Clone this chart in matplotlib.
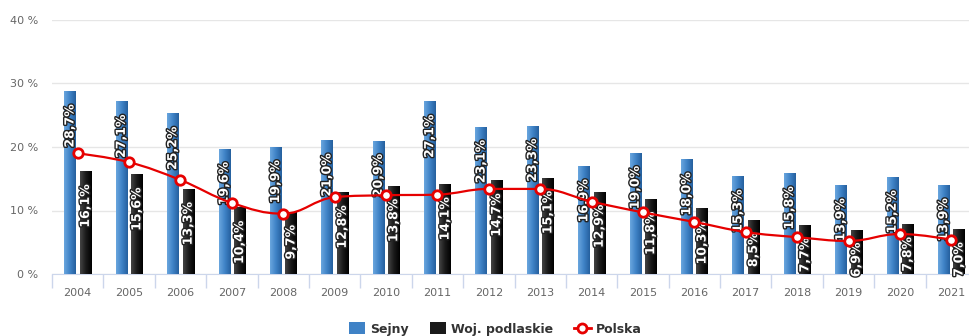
import numpy as np
import matplotlib
matplotlib.use("Agg")
import matplotlib.pyplot as plt
import matplotlib.patheffects as pe
from matplotlib.path import Path
from matplotlib.patches import PathPatch, Patch
from matplotlib.lines import Line2D

years = [str(y) for y in range(2004, 2022)]
sejny = [28.7, 27.1, 25.2, 19.6, 19.9, 21.0, 20.9, 27.1, 23.1, 23.3,
         16.9, 19.0, 18.0, 15.3, 15.8, 13.9, 15.2, 13.9]
podlaskie = [16.1, 15.6, 13.3, 10.4, 9.7, 12.8, 13.8, 14.1, 14.7, 15.1,
             12.9, 11.8, 10.3, 8.5, 7.7, 6.9, 7.8, 7.0]
polska = [19.0, 17.6, 14.8, 11.2, 9.5, 12.1, 12.4, 12.5, 13.4, 13.4,
          11.4, 9.7, 8.2, 6.6, 5.8, 5.2, 6.3, 5.4]
y_ticks = [0, 10, 20, 30, 40]

BLUE_GRAD = ["#6aa6de", "#3f82c6", "#25609e"]
BLACK_GRAD = ["#444444", "#1a1a1a", "#000000"]
RED = "#e60000"


def spline_path(xs, ys, smoothing=1.5):
    """Smoothed line through the points, control points built the way
    a Highcharts 'spline' series does it."""
    n = len(xs)
    denom = smoothing + 1
    left = [(xs[0], ys[0])] * n
    right = [(xs[0], ys[0])] * n
    for i in range(n):
        x, y = xs[i], ys[i]
        if i == 0 or i == n - 1:
            left[i] = right[i] = (x, y)
            continue
        lx, ly = xs[i - 1], ys[i - 1]
        nx, ny = xs[i + 1], ys[i + 1]
        lcx = (smoothing * x + lx) / denom
        lcy = (smoothing * y + ly) / denom
        rcx = (smoothing * x + nx) / denom
        rcy = (smoothing * y + ny) / denom
        if rcx != lcx:
            corr = (rcy - lcy) * (rcx - x) / (rcx - lcx) + y - rcy
            lcy += corr
            rcy += corr
        if lcy > ly and lcy > y:
            lcy = max(ly, y)
            rcy = 2 * y - lcy
        elif lcy < ly and lcy < y:
            lcy = min(ly, y)
            rcy = 2 * y - lcy
        if rcy > ny and rcy > y:
            rcy = max(ny, y)
            lcy = 2 * y - rcy
        elif rcy < ny and rcy < y:
            rcy = min(ny, y)
            lcy = 2 * y - rcy
        left[i] = (lcx, lcy)
        right[i] = (rcx, rcy)
    verts = [(xs[0], ys[0])]
    codes = [Path.MOVETO]
    for i in range(1, n):
        verts += [right[i - 1], left[i], (xs[i], ys[i])]
        codes += [Path.CURVE4] * 3
    return Path(verts, codes)


def gradient_bars(ax, bars, colors):
    cmap = matplotlib.colors.LinearSegmentedColormap.from_list("g", colors)
    grad = np.linspace(0, 1, 64).reshape(1, -1)
    for b in bars:
        x0, w, h = b.get_x(), b.get_width(), b.get_height()
        ax.imshow(grad, cmap=cmap, extent=(x0, x0 + w, 0, h), aspect="auto",
                  zorder=b.get_zorder() + 0.1, interpolation="bilinear")


fig = plt.figure(figsize=(9.69, 3.36), dpi=100)
ax = fig.add_axes([52 / 969, 1 - 274 / 336, 925 / 969, 254 / 336])

x = np.arange(len(years))
w = 0.22
off = 0.15
b1 = ax.bar(x - off, sejny, w, color=BLUE_GRAD[1], zorder=2)
b2 = ax.bar(x + off, podlaskie, w, color=BLACK_GRAD[1], zorder=2)
gradient_bars(ax, b1, BLUE_GRAD)
gradient_bars(ax, b2, BLACK_GRAD)

# value labels, rotated and hung from the top of each bar
outline = [pe.withStroke(linewidth=2, foreground="#222222")]
for xs_, vals in ((x - off, sejny), (x + off, podlaskie)):
    for xi, v in zip(xs_, vals):
        ax.annotate(f"{v:.1f}%".replace(".", ","), (xi, v),
                    xytext=(0, -9), textcoords="offset points",
                    rotation=90, ha="center", va="top", color="white",
                    fontsize=9, fontweight="bold", zorder=4,
                    path_effects=outline, annotation_clip=False)

ax.add_patch(PathPatch(spline_path(list(x), polska), facecolor="none",
                       edgecolor=RED, lw=1.6, zorder=5))
ax.plot(x, polska, ls="none", marker="o", ms=6.8, mfc="white", mec=RED,
        mew=2, zorder=6)

ax.set_xlim(-0.5, len(years) - 0.5)
ax.set_ylim(0, 40)
ax.set_yticks(y_ticks)
ax.set_yticklabels([f"{t} %" for t in y_ticks])
ax.set_xticks(x)
ax.set_xticklabels(years)
ax.set_xticks(np.arange(len(years) + 1) - 0.5, minor=True)
ax.tick_params(axis="x", which="major", length=0, pad=10, labelsize=8,
               labelcolor="#666666")
ax.tick_params(axis="x", which="minor", length=10, width=1, color="#ccd6eb")
ax.tick_params(axis="y", length=0, pad=10, labelsize=8, labelcolor="#666666")
ax.grid(axis="y", color="#e6e6e6", lw=1, zorder=0)
ax.set_axisbelow(True)
for s in ("top", "right", "left"):
    ax.spines[s].set_visible(False)
ax.spines["bottom"].set_color("#ccd6eb")
ax.spines["bottom"].set_zorder(1)

handles = [
    Patch(facecolor=BLUE_GRAD[1], edgecolor="none", label="Sejny"),
    Patch(facecolor=BLACK_GRAD[1], edgecolor="none", label="Woj. podlaskie"),
    Line2D([], [], color=RED, lw=2, marker="o", ms=6.5, mfc="white",
           mec=RED, mew=2, label="Polska"),
]
leg = fig.legend(handles=handles, loc="center", bbox_to_anchor=(495 / 969, 1 - 329 / 336),
                 ncol=3, frameon=False, fontsize=9, handlelength=1.3,
                 handleheight=1.1, columnspacing=1.7, handletextpad=0.4)
for t in leg.get_texts():
    t.set_fontweight("bold")
    t.set_color("#333333")

fig.savefig("out.png", dpi=100)
